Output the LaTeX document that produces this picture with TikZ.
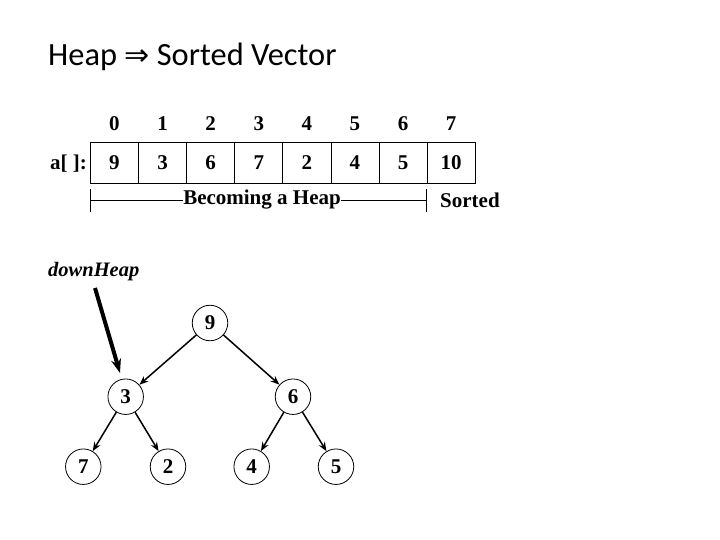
\documentclass[tikz,border=0pt]{standalone}
\usepackage{fontspec}
\setmainfont{Liberation Serif}
\newfontfamily\titlefont{Carlito}
\newfontfamily\dejavu{DejaVu Sans}
\newfontfamily\tbf{Liberation Serif Bold}
\newfontfamily\tbi{Liberation Serif Bold Italic}
\usetikzlibrary{arrows.meta}
\newcommand{\bigbf}{\tbf\fontsize{21}{23}\selectfont}
\begin{document}
\begin{tikzpicture}[x=1pt,y=-1pt,
  cell/.style={draw,line width=0.8pt,minimum width=48.1pt,minimum height=41pt,inner sep=0pt,anchor=north west,font=\bigbf},
  idx/.style={font=\bigbf,inner sep=0pt},
  lbl/.style={font=\bigbf,inner sep=0pt},
  tnode/.style={circle,draw,line width=0.8pt,minimum size=35.5pt,inner sep=0pt,font=\bigbf},
  edge/.style={line width=1.5pt,-{Stealth[length=9pt,width=7pt]}},
  bar/.style={line width=0.8pt}]
\useasboundingbox (0,0) rectangle (720,540);
\node[anchor=west,inner sep=0pt,font=\titlefont\fontsize{32.4}{34}\selectfont] (title) at (48,57) {Heap {\dejavu\fontsize{30}{32}\selectfont ⇒} Sorted Vector};
% array
\node[cell] (c0) at (90,142) {9};
\node[cell] (c1) at (138.1,142) {3};
\node[cell] (c2) at (186.2,142) {6};
\node[cell] (c3) at (234.3,142) {7};
\node[cell] (c4) at (282.4,142) {2};
\node[cell] (c5) at (330.5,142) {4};
\node[cell] (c6) at (378.6,142) {5};
\node[cell] (c7) at (426.7,142) {10};
\node[idx] (i0) at (c0.north |- 0,123.5) {0};
\node[idx] (i1) at (c1.north |- 0,123.5) {1};
\node[idx] (i2) at (c2.north |- 0,123.5) {2};
\node[idx] (i3) at (c3.north |- 0,123.5) {3};
\node[idx] (i4) at (c4.north |- 0,123.5) {4};
\node[idx] (i5) at (c5.north |- 0,123.5) {5};
\node[idx] (i6) at (c6.north |- 0,123.5) {6};
\node[idx] (i7) at (c7.north |- 0,123.5) {7};
\coordinate (abase) at (87,0);
\node[lbl,anchor=base east] (a) at (abase |- c0.base) {a[ ]:};
% brackets
\coordinate (bl1) at (90,189);
\coordinate (bl2) at (90,212);
\coordinate (br1) at (426.7,189);
\coordinate (br2) at (426.7,212);
\draw[bar] (bl1) -- (bl2);
\draw[bar] (br1) -- (br2);
\node[lbl] (become) at (262,200) {Becoming a Heap};
\node[lbl,anchor=west] (sorted) at (440,200) {Sorted};
\coordinate (bm1) at (90,200);
\coordinate (bm2) at (426.7,200);
\draw[bar] (bm1) -- (become.west |- bm1);
\draw[bar] (become.east |- bm2) -- (bm2);
% downHeap
\node[anchor=west,inner sep=0pt,font=\tbi\fontsize{20.5}{22}\selectfont] (dh) at (48,272) {downHeap};
% tree
\node[tnode] (n9) at (210,323) {9};
\node[tnode] (n3) at (125.7,396.7) {3};
\node[tnode] (n6) at (293,396.7) {6};
\node[tnode] (n7) at (83.3,466.7) {7};
\node[tnode] (n2) at (168,466.7) {2};
\node[tnode] (n4) at (251.7,466.7) {4};
\node[tnode] (n5) at (336,466.7) {5};
\draw[edge] (n9) -- (n3);
\draw[edge] (n9) -- (n6);
\draw[edge] (n3) -- (n7);
\draw[edge] (n3) -- (n2);
\draw[edge] (n6) -- (n4);
\draw[edge] (n6) -- (n5);
\coordinate (dhs) at (95,288);
\coordinate (dhe) at (120,373);
\draw[line width=4pt,-{Stealth[length=14pt,width=10pt]}] (dhs) -- (dhe);
\end{tikzpicture}
\end{document}
